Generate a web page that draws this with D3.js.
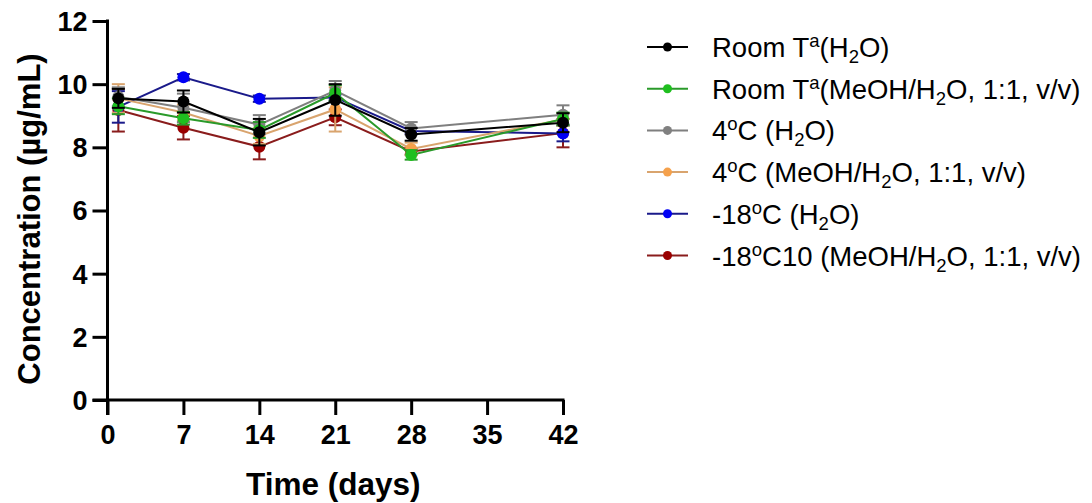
<!DOCTYPE html>
<html><head><meta charset="utf-8">
<script src="https://cdn.jsdelivr.net/npm/d3@7"></script>
<style>
body{margin:0;background:#fff;}
svg{display:block;font-family:"Liberation Sans",Arial,sans-serif;}
</style></head>
<body><svg id="c" width="1092" height="503"></svg>
<script>
const days = [1, 7, 14, 21, 28, 42];
const xTicks = [0, 7, 14, 21, 28, 35, 42];
const yTicks = [0, 2, 4, 6, 8, 10, 12];

const roomH2O      = [9.55, 9.45, 8.48, 9.50, 8.41, 8.78];
const roomH2OErr   = [0.30, 0.35, 0.42, 0.50, 0.20, 0.30];
const roomMeOH     = [9.30, 8.92, 8.55, 9.72, 7.76, 8.90];
const roomMeOHErr  = [0.25, 0.20, 0.25, 0.25, 0.15, 0.20];
const c4H2O        = [9.60, 9.25, 8.72, 9.80, 8.60, 9.03];
const c4H2OErr     = [0.30, 0.45, 0.30, 0.30, 0.20, 0.30];
const c4MeOH       = [9.55, 9.10, 8.36, 9.20, 7.95, 8.88];
const c4MeOHErr    = [0.45, 0.25, 0.25, 0.70, 0.20, 0.20];
const m18H2O       = [9.28, 10.22, 9.54, 9.58, 8.52, 8.44];
const m18H2OErr    = [0.50, 0.10, 0.10, 0.10, 0.10, 0.25];
const m18MeOH      = [9.18, 8.62, 8.02, 8.95, 7.87, 8.45];
const m18MeOHErr   = [0.68, 0.37, 0.40, 0.25, 0.10, 0.45];

// legend labels as segments: [text, style] style: n normal, sup, sub
const labels = [
  [["Room T","n"],["a","sup"],["(H","n"],["2","sub"],["O)","n"]],
  [["Room T","n"],["a","sup"],["(MeOH/H","n"],["2","sub"],["O, 1:1, v/v)","n"]],
  [["4","n"],["o","sup"],["C (H","n"],["2","sub"],["O)","n"]],
  [["4","n"],["o","sup"],["C (MeOH/H","n"],["2","sub"],["O, 1:1, v/v)","n"]],
  [["-18","n"],["o","sup"],["C (H","n"],["2","sub"],["O)","n"]],
  [["-18","n"],["o","sup"],["C10 (MeOH/H","n"],["2","sub"],["O, 1:1, v/v)","n"]]
];
const markerColors = ["#000000", "#1fbf1f", "#808080", "#f5a14c", "#0000f5", "#9a0000"];
const lineColors   = ["#000000", "#2a9a2a", "#7f7f7f", "#d9a46e", "#1a1a8a", "#8a1c1c"];

const series = [
  {v: roomH2O, e: roomH2OErr},
  {v: roomMeOH, e: roomMeOHErr},
  {v: c4H2O, e: c4H2OErr},
  {v: c4MeOH, e: c4MeOHErr},
  {v: m18H2O, e: m18H2OErr},
  {v: m18MeOH, e: m18MeOHErr}
];

const svg = d3.select("#c");
const x = d3.scaleLinear().domain([0, 42]).range([107.5, 563]);
const y = d3.scaleLinear().domain([0, 12]).range([400, 21]);

// axes
const gy = svg.append("g").attr("transform", `translate(${x(0)},0)`)
  .call(d3.axisLeft(y).tickValues(yTicks).tickSize(15).tickPadding(5).tickSizeOuter(0));
gy.select(".domain").remove();
gy.append("line").attr("x1",0).attr("x2",0).attr("y1",y(12)-1.5).attr("y2",y(0)+15)
  .attr("stroke","#000").attr("stroke-width",3);
gy.selectAll(".tick line").attr("stroke","#000").attr("stroke-width",3);
gy.selectAll(".tick text").attr("font-size",27).attr("font-weight","bold").attr("fill","#000").attr("dy","0.35em");

const gx = svg.append("g").attr("transform", `translate(0,${y(0)})`)
  .call(d3.axisBottom(x).tickValues(xTicks).tickSize(15).tickPadding(10).tickSizeOuter(0));
gx.select(".domain").remove();
gx.append("line").attr("x1",x(0)-15).attr("x2",x(42)+1.5).attr("y1",0).attr("y2",0)
  .attr("stroke","#000").attr("stroke-width",3);
gx.selectAll(".tick line").attr("stroke","#000").attr("stroke-width",3);
gx.selectAll(".tick text").attr("font-size",27).attr("font-weight","bold").attr("fill","#000");

svg.append("text").attr("x", x(21)-2).attr("y", 495).attr("text-anchor","middle")
  .attr("font-size",31.5).attr("font-weight","bold").text("Time (days)");
svg.append("text").attr("transform","translate(40,219) rotate(-90)").attr("text-anchor","middle")
  .attr("font-size",31).attr("font-weight","bold").text("Concentration (\u00b5g/mL)");

// data, drawn last series first so first is on top
const line = d3.line().x((d,i)=>x(days[i])).y(d=>y(d));
const order = d3.range(series.length).reverse();
order.forEach(si => {
  const s = series[si];
  const g = svg.append("g");
  g.append("path").attr("d", line(s.v)).attr("fill","none")
    .attr("stroke", lineColors[si]).attr("stroke-width", 2);
  s.v.forEach((v,i) => {
    const cx = x(days[i]);
    const lo = y(v - s.e[i]), hi = y(v + s.e[i]);
    g.append("line").attr("x1",cx).attr("x2",cx).attr("y1",lo).attr("y2",hi)
      .attr("stroke", lineColors[si]).attr("stroke-width",2);
    [lo,hi].forEach(yy => g.append("line").attr("x1",cx-6.5).attr("x2",cx+6.5).attr("y1",yy).attr("y2",yy)
      .attr("stroke", lineColors[si]).attr("stroke-width",2));
  });
  g.selectAll("circle").data(s.v).join("circle")
    .attr("cx",(d,i)=>x(days[i])).attr("cy",d=>y(d)).attr("r",6)
    .attr("fill", markerColors[si]);
});

// legend
const lg = svg.append("g");
const shift = {sup: -10, sub: 6, n: 0};
labels.forEach((segs, i) => {
  const cy = 47 + 41.7 * i;
  lg.append("line").attr("x1",647).attr("x2",688).attr("y1",cy).attr("y2",cy)
    .attr("stroke", lineColors[i]).attr("stroke-width",2);
  lg.append("circle").attr("cx",667.5).attr("cy",cy).attr("r",4.5).attr("fill",markerColors[i]);
  const t = lg.append("text").attr("x",712).attr("y",cy+10).attr("font-size",27.5).attr("fill","#000");
  let cur = 0;
  segs.forEach(([txt, st]) => {
    const ts = t.append("tspan").text(txt);
    if (st !== "n") ts.attr("font-size",18.5);
    const dy = shift[st] - cur;
    if (dy !== 0) ts.attr("dy", dy);
    cur = shift[st];
  });
});
</script></body></html>
